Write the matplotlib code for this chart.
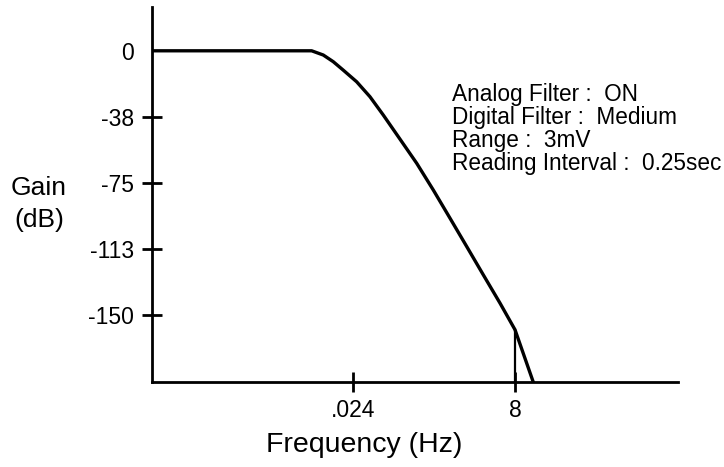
import numpy as np
import matplotlib
matplotlib.use("Agg")
import matplotlib.pyplot as plt

plt.rcParams['font.family'] = ['Liberation Sans', 'DejaVu Sans']

# response curve
freq = [1.74e-5, 0.00538, 0.00817, 0.0117, 0.01675, 0.0271, 0.0437, 0.0705,
        0.1285, 0.234, 0.425, 0.774, 1.41, 2.56, 4.67, 8.0, 15.4]
gain = [0, 0, -2.4, -6.2, -11.0, -17.6, -26.1, -36.5,
        -50.2, -63.9, -79.1, -95.1, -111.2, -127.3, -143.4, -158.5, -188.2]
cut_freq = 8.0
cut_gain = -158.5

yticks = [0, -37.5, -75, -112.5, -150]
ytick_labels = ["0", "-38", "-75", "-113", "-150"]
xticks = [0.024, 8]
xtick_labels = [".024", "8"]

notes = ["Analog Filter :  ON",
         "Digital Filter :  Medium",
         "Range :  3mV",
         "Reading Interval :  0.25sec"]

fsz = 16.5
W, H = 724, 467

fig = plt.figure(figsize=(7.24, 4.67), dpi=100)
ax = fig.add_axes([152/W, 1-382/H, (678-152)/W, (382-7.5)/H])

ax.plot(freq, gain, "k-", lw=2.4, solid_joinstyle="round")
ax.plot([cut_freq, cut_freq], [cut_gain, -188.2], "k-", lw=1.6)

ax.set_xscale("log")
ax.set_xlim(1.74e-5, 2790)
ax.set_ylim(-188.2, 24.6)

for s in ["top", "right"]:
    ax.spines[s].set_visible(False)
for s in ["left", "bottom"]:
    ax.spines[s].set_linewidth(2.0)

ax.set_yticks(yticks)
ax.set_yticklabels(ytick_labels)
ax.set_xticks(xticks)
ax.set_xticklabels(xtick_labels)
ax.xaxis.set_minor_locator(matplotlib.ticker.NullLocator())
ax.tick_params(direction="inout", length=14, width=2.0, labelsize=fsz, pad=6)
ax.tick_params(axis="x", pad=5)
ax.yaxis.get_major_ticks()[0].tick1line.set_visible(False)

fig.text(39/W, 1-195/H, "Gain", fontsize=19, ha="center", va="baseline")
fig.text(39/W, 1-227/H, "(dB)", fontsize=19, ha="center", va="baseline")
fig.text(364/W, 1-452/H, "Frequency (Hz)", fontsize=20.5, ha="center", va="baseline")

for i, t in enumerate(notes):
    fig.text(452/W, 1-(100.5+23.2*i)/H, t, fontsize=16.3, ha="left", va="baseline")

fig.savefig("out.png", dpi=100)
